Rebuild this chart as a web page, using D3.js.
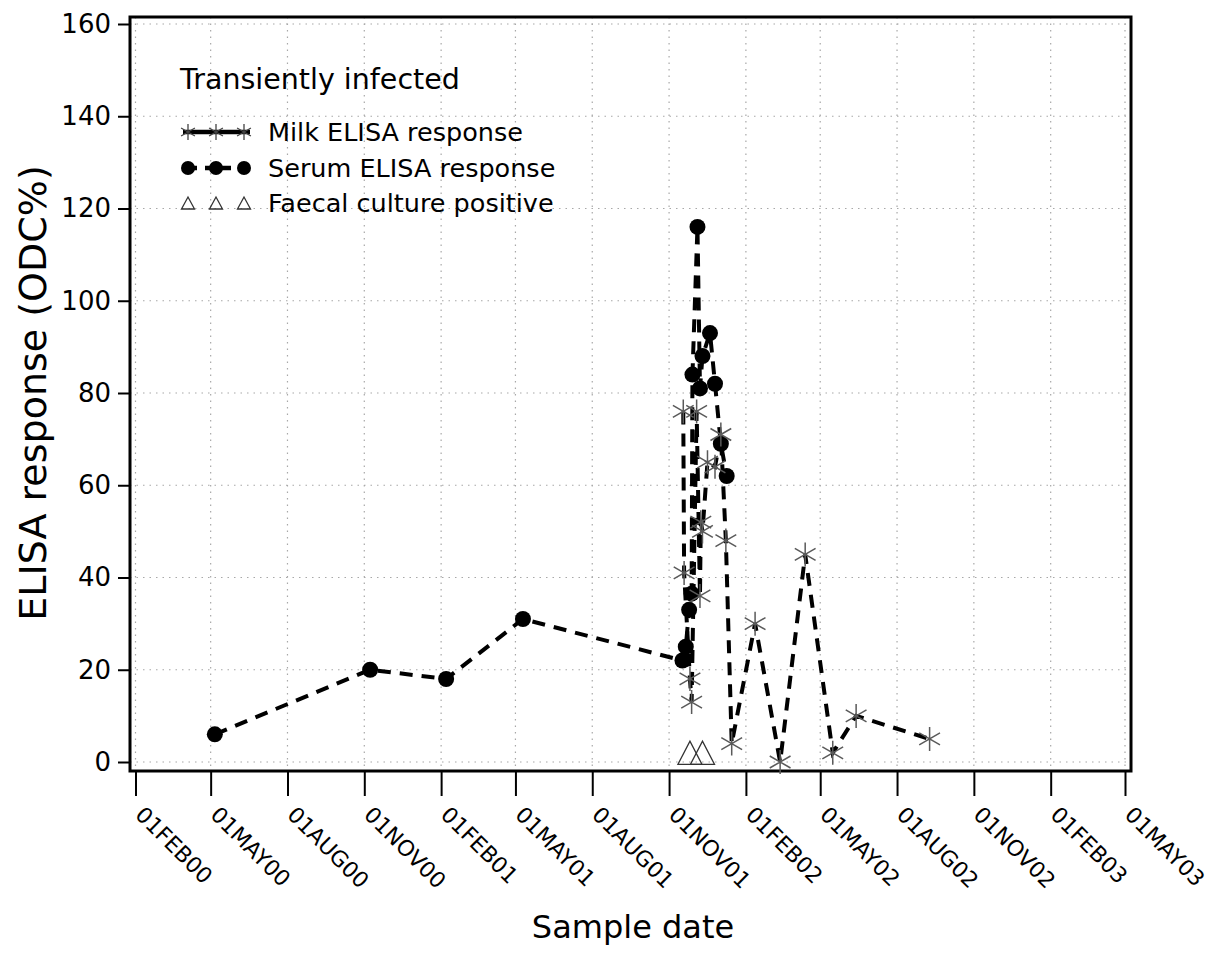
<!DOCTYPE html>
<html><head><meta charset="utf-8">
<script src="https://cdn.jsdelivr.net/npm/d3@7"></script>
<style>body{margin:0;background:#fff}svg{display:block}text{font-family:"DejaVu Sans",Verdana,sans-serif;fill:#000}</style>
</head><body>
<svg id="c" width="1215" height="962"></svg>
<script>
const serumDates = ["2000-05-06","2000-11-08","2001-02-07","2001-05-10","2001-11-17","2001-11-21","2001-11-25","2001-11-28","2001-11-29","2001-12-05","2001-12-08","2001-12-11","2001-12-20","2001-12-26","2002-01-02","2002-01-09"];
const serumValues = [6,20,18,31,22,25,33,36.5,84,116,81,88,93,82,69,62];
const milkDates = ["2001-11-18","2001-11-19","2001-11-26","2001-11-28","2001-12-04","2001-12-08","2001-12-09","2001-12-11","2001-12-17","2001-12-26","2002-01-02","2002-01-08","2002-01-15","2002-02-12","2002-03-14","2002-04-13","2002-05-16","2002-06-13","2002-09-09"];
const milkValues = [76,41,18,13,76,36,52,50,65,64,71,48,4,30,0,45,2,10,5];
const faecalDates = ["2001-11-26","2001-12-11"];
const faecalValues = [2,2];
const xTickDates = ["2000-02-01","2000-05-01","2000-08-01","2000-11-01","2001-02-01","2001-05-01","2001-08-01","2001-11-01","2002-02-01","2002-05-01","2002-08-01","2002-11-01","2003-02-01","2003-05-01"];
const xTickLabels = ["01FEB00","01MAY00","01AUG00","01NOV00","01FEB01","01MAY01","01AUG01","01NOV01","01FEB02","01MAY02","01AUG02","01NOV02","01FEB03","01MAY03"];
const yTicks = [0,20,40,60,80,100,120,140,160];
const legendTitle = "Transiently infected";
const legendLabels = ["Milk ELISA response","Serum ELISA response","Faecal culture positive"];

const parse = d3.timeParse("%Y-%m-%d");
const svg = d3.select("#c");
const L = 130, R = 1131, T = 17, B = 771;
const x = d3.scaleTime().domain([parse(xTickDates[0]), parse(xTickDates[xTickDates.length-1])]).range([135.5, 1125]);
const y = d3.scaleLinear().domain([0,160]).range([762, 24]);

// grid
const g = svg.append("g");
g.selectAll("line.gx").data(xTickDates).join("line")
  .attr("x1", d=>x(parse(d))).attr("x2", d=>x(parse(d))).attr("y1", T).attr("y2", B)
  .attr("stroke","#a8a8a8").attr("stroke-width",1.2).attr("stroke-dasharray","1.5,5");
g.selectAll("line.gy").data(yTicks).join("line")
  .attr("x1", L).attr("x2", R).attr("y1", d=>y(d)).attr("y2", d=>y(d))
  .attr("stroke","#a8a8a8").attr("stroke-width",1.2).attr("stroke-dasharray","1.5,5");

// axes
const yAxis = d3.axisLeft(y).tickValues(yTicks).tickSize(12).tickPadding(7);
const ya = svg.append("g").attr("transform",`translate(${L},0)`).call(yAxis);
ya.select(".domain").remove();
ya.selectAll("line").attr("stroke","#000").attr("stroke-width",2);
ya.selectAll("text").attr("font-size",26).attr("font-family","DejaVu Sans").attr("fill","#000");

const xAxis = d3.axisBottom(x).tickValues(xTickDates.map(parse)).tickSize(25).tickFormat((d,i)=>xTickLabels[i]);
const xa = svg.append("g").attr("transform",`translate(0,${B})`).call(xAxis);
xa.select(".domain").remove();
xa.selectAll("line").attr("stroke","#000").attr("stroke-width",2);
xa.selectAll("text").attr("font-size",22).attr("font-family","DejaVu Sans").attr("fill","#000")
  .attr("text-anchor","start").attr("dy",null).attr("y",0)
  .attr("transform","translate(-2,45) rotate(45)");

// frame
svg.append("rect").attr("x",L).attr("y",T).attr("width",R-L).attr("height",B-T)
  .attr("fill","none").attr("stroke","#000").attr("stroke-width",3);

// titles
svg.append("text").attr("transform","translate(46,393) rotate(-90)").attr("text-anchor","middle")
  .attr("font-size",38).text("ELISA response (ODC%)");
svg.append("text").attr("x",633).attr("y",938).attr("text-anchor","middle").attr("font-size",32).text("Sample date");

function asterisk(sel, r, color, sw){
  const a = Math.cos(Math.PI/6)*r, b = Math.sin(Math.PI/6)*r;
  sel.append("path").attr("d",`M0,${-r}L0,${r}M${-a},${-b}L${a},${b}M${-a},${b}L${a},${-b}`)
    .attr("stroke",color).attr("stroke-width",sw).attr("fill","none");
}
function triangle(sel, w, h){
  sel.append("path").attr("d",`M${-w/2},${h/2}L0,${-h/2}L${w/2},${h/2}Z`)
    .attr("fill","none").attr("stroke","#333").attr("stroke-width",1.3);
}

// data
const serum = serumDates.map((d,i)=>({d:parse(d), v:serumValues[i]}));
const milk = milkDates.map((d,i)=>({d:parse(d), v:milkValues[i]}));
const faecal = faecalDates.map((d,i)=>({d:parse(d), v:faecalValues[i]}));
const line = d3.line().x(p=>x(p.d)).y(p=>y(p.v));

svg.append("path").attr("d",line(serum)).attr("fill","none").attr("stroke","#000")
  .attr("stroke-width",4).attr("stroke-dasharray","13,9");
svg.selectAll("circle.s").data(serum).join("circle").attr("cx",p=>x(p.d)).attr("cy",p=>y(p.v)).attr("r",8).attr("fill","#000");

svg.append("path").attr("d",line(milk)).attr("fill","none").attr("stroke","#000")
  .attr("stroke-width",4).attr("stroke-dasharray","13,9");
svg.selectAll("g.m").data(milk).join("g").attr("transform",p=>`translate(${x(p.d)},${y(p.v)})`)
  .each(function(){ asterisk(d3.select(this), 12, "#5a5a5a", 1.5); });

svg.selectAll("g.f").data(faecal).join("g").attr("transform",p=>`translate(${x(p.d)},${y(p.v)})`)
  .each(function(){ triangle(d3.select(this), 24, 23); });

// legend
svg.append("text").attr("x",180).attr("y",89).attr("font-size",28.5).text(legendTitle);
const lx = [188,216,244];
const rows = [132,168,203];
svg.append("line").attr("x1",183).attr("x2",250).attr("y1",rows[0]).attr("y2",rows[0]).attr("stroke","#000").attr("stroke-width",4.5);
lx.forEach(px=>{ const gg=svg.append("g").attr("transform",`translate(${px},${rows[0]})`); asterisk(gg,8,"#444",1.3); });
svg.append("line").attr("x1",188).attr("x2",244).attr("y1",rows[1]).attr("y2",rows[1]).attr("stroke","#000").attr("stroke-width",4.5).attr("stroke-dasharray","9,8");
lx.forEach(px=>svg.append("circle").attr("cx",px).attr("cy",rows[1]).attr("r",7).attr("fill","#000"));
lx.forEach(px=>{ const gg=svg.append("g").attr("transform",`translate(${px},${rows[2]})`); triangle(gg,13,12); });
legendLabels.forEach((t,i)=>svg.append("text").attr("x",268).attr("y",rows[i]+9).attr("font-size",25.5).text(t));
</script>
</body></html>
